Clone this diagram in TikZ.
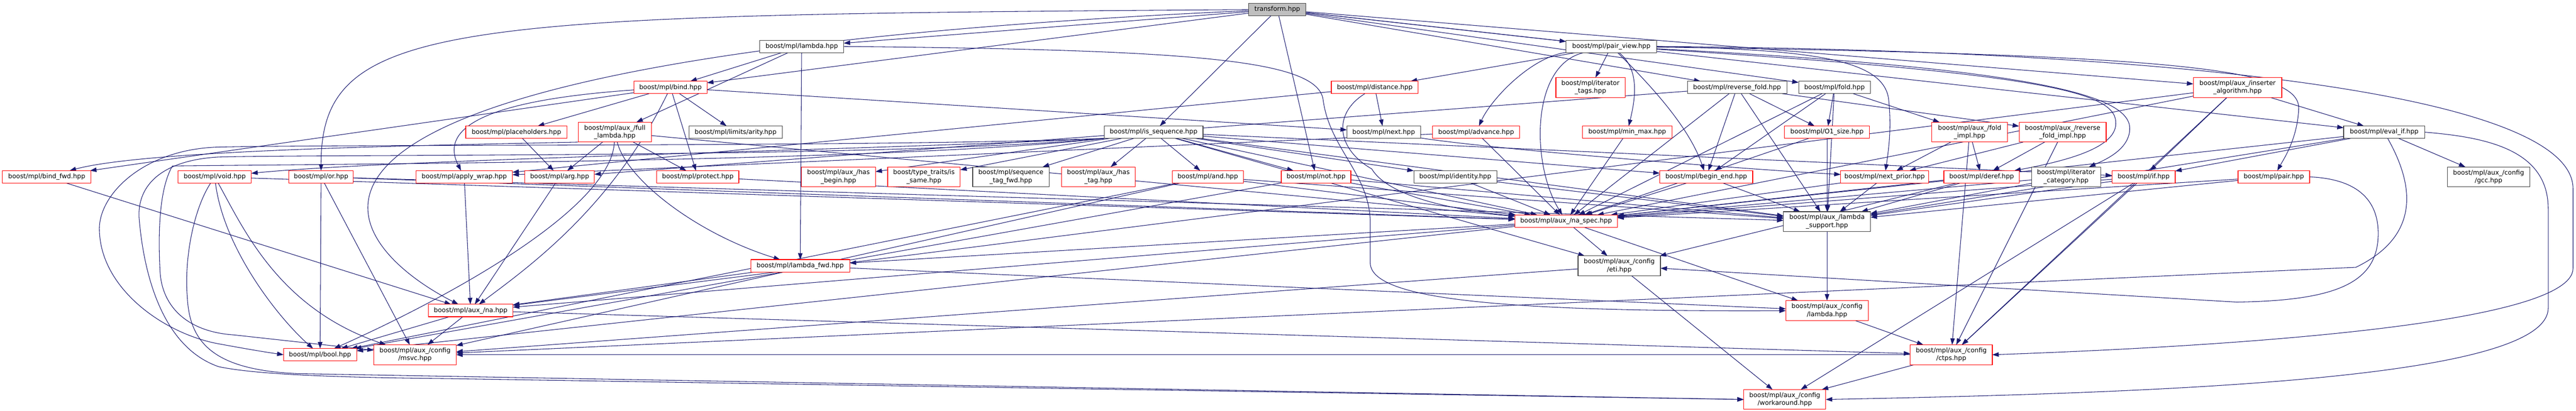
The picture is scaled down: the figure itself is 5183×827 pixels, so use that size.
\documentclass[tikz,border=0pt]{standalone}
\usepackage{fontspec}
\setmainfont{DejaVu Sans}
\usetikzlibrary{arrows.meta}
\definecolor{edgeblue}{HTML}{191970}
\definecolor{nodered}{HTML}{FF0000}
\definecolor{nodegray}{HTML}{404040}
\definecolor{rootfill}{HTML}{BFBFBF}
\pgfdeclarelayer{bglayer}
\pgfdeclarelayer{edgelayer}
\pgfsetlayers{bglayer,edgelayer,main}
\newcommand{\lblfont}{\fontsize{12.9}{16}\selectfont}
\tikzset{
  box/.style={draw, line width=1.2pt, minimum height=25pt, inner sep=0pt, outer sep=0pt, align=center, font=\lblfont, text=black, fill=white},
  rbox/.style={box, draw=nodered},
  kbox/.style={box, draw=nodegray},
  rootbox/.style={box, draw=nodegray, fill=rootfill},
  dbl/.style={minimum height=40pt},
  dep/.style={draw=edgeblue, line width=1.1pt, -{Triangle[length=13pt,width=9pt]}},
}
\begin{document}
\begin{tikzpicture}[x=1pt,y=-1pt]
\begin{pgfonlayer}{bglayer}
\fill[white] (0,0) rectangle (5183,827);
\end{pgfonlayer}
\useasboundingbox (0,0) rectangle (5183,827);
% row 0
\node[rootbox, minimum width=115pt] (T) at (2570,19) {transform.hpp};
% row 1
\node[kbox, minimum width=169pt] (lam) at (1613,93.5) {boost/mpl/lambda.hpp};
\node[kbox, minimum width=182pt] (pv) at (3242,93.5) {boost/mpl/pair\_view.hpp};
% row 2
\node[rbox, minimum width=147pt] (bind) at (1349,176) {boost/mpl/bind.hpp};
\node[rbox, minimum width=175pt] (dist) at (2766,176) {boost/mpl/distance.hpp};
\node[rbox, dbl, minimum width=139pt] (itags) at (3200,176) {boost/mpl/iterator\\\_tags.hpp};
\node[kbox, minimum width=200pt] (rfold) at (3495,176) {boost/mpl/reverse\_fold.hpp};
\node[kbox, minimum width=144pt] (fold) at (3691,176) {boost/mpl/fold.hpp};
\node[rbox, dbl, minimum width=178pt] (ins) at (4502,176) {boost/mpl/aux\_/inserter\\\_algorithm.hpp};
% row 3
\node[rbox, minimum width=204pt] (ph) at (1039,266) {boost/mpl/placeholders.hpp};
\node[rbox, dbl, minimum width=147pt] (fl) at (1237,266) {boost/mpl/aux\_/full\\\_lambda.hpp};
\node[kbox, minimum width=188pt] (arity) at (1480,266) {boost/mpl/limits/arity.hpp};
\node[kbox, minimum width=199pt] (isseq) at (2321,266) {boost/mpl/is\_sequence.hpp};
\node[kbox, minimum width=148pt] (next) at (2784,266) {boost/mpl/next.hpp};
\node[rbox, minimum width=175pt] (adv) at (2970,266) {boost/mpl/advance.hpp};
\node[rbox, minimum width=181pt] (mm) at (3274,266) {boost/mpl/min\_max.hpp};
\node[rbox, minimum width=171pt] (o1) at (3676,266) {boost/mpl/O1\_size.hpp};
\node[rbox, dbl, minimum width=152pt] (fimpl) at (3963,266) {boost/mpl/aux\_/fold\\\_impl.hpp};
\node[rbox, dbl, minimum width=175pt] (rfimpl) at (4150,266) {boost/mpl/aux\_/reverse\\\_fold\_impl.hpp};
\node[kbox, minimum width=163pt] (evif) at (4797,266) {boost/mpl/eval\_if.hpp};
% row 4
\node[rbox, minimum width=178pt] (bindfwd) at (94,356) {boost/mpl/bind\_fwd.hpp};
\node[rbox, minimum width=147pt] (void) at (432,356) {boost/mpl/void.hpp};
\node[rbox, minimum width=130pt] (nor) at (646,356) {boost/mpl/or.hpp};
\node[rbox, minimum width=194pt] (aw) at (934,356) {boost/mpl/apply\_wrap.hpp};
\node[rbox, minimum width=140pt] (arg) at (1126,356) {boost/mpl/arg.hpp};
\node[rbox, minimum width=165pt] (prot) at (1404,356) {boost/mpl/protect.hpp};
\node[rbox, dbl, minimum width=149pt] (hbeg) at (1687,356) {boost/mpl/aux\_/has\\\_begin.hpp};
\node[rbox, dbl, minimum width=146pt] (issame) at (1859,356) {boost/type\_traits/is\\\_same.hpp};
\node[kbox, dbl, minimum width=154pt] (stf) at (2034,356) {boost/mpl/sequence\\\_tag\_fwd.hpp};
\node[rbox, dbl, minimum width=149pt] (htag) at (2210,356) {boost/mpl/aux\_/has\\\_tag.hpp};
\node[rbox, minimum width=143pt] (nand) at (2430,356) {boost/mpl/and.hpp};
\node[rbox, minimum width=140pt] (nnot) at (2648,356) {boost/mpl/not.hpp};
\node[kbox, minimum width=167pt] (ident) at (2928,356) {boost/mpl/identity.hpp};
\node[rbox, minimum width=187pt] (be) at (3433,356) {boost/mpl/begin\_end.hpp};
\node[rbox, minimum width=177pt] (np) at (3792,356) {boost/mpl/next\_prior.hpp};
\node[rbox, minimum width=152pt] (deref) at (3987,356) {boost/mpl/deref.hpp};
\node[kbox, dbl, minimum width=139pt] (itcat) at (4157,356) {boost/mpl/iterator\\\_category.hpp};
\node[rbox, minimum width=127pt] (nif) at (4313,356) {boost/mpl/if.hpp};
\node[rbox, minimum width=144pt] (pair) at (4575,356) {boost/mpl/pair.hpp};
\node[kbox, dbl, minimum width=166pt] (gcc) at (5007,356) {boost/mpl/aux\_/config\\/gcc.hpp};
% row 5
\node[rbox, minimum width=206pt] (nspec) at (3151,445) {boost/mpl/aux\_/na\_spec.hpp};
\node[kbox, dbl, minimum width=175pt] (lsup) at (3676,446) {boost/mpl/aux\_/lambda\\\_support.hpp};
% row 6
\node[rbox, minimum width=199pt] (lfwd) at (1610,535) {boost/mpl/lambda\_fwd.hpp};
\node[kbox, dbl, minimum width=166pt] (eti) at (3258,535) {boost/mpl/aux\_/config\\/eti.hpp};
% row 7
\node[rbox, minimum width=170pt] (na) at (947,625) {boost/mpl/aux\_/na.hpp};
\node[rbox, dbl, minimum width=166pt] (clam) at (3676,625) {boost/mpl/aux\_/config\\/lambda.hpp};
% row 8
\node[rbox, minimum width=147pt] (bool) at (644,714) {boost/mpl/bool.hpp};
\node[rbox, dbl, minimum width=166pt] (msvc) at (835,714) {boost/mpl/aux\_/config\\/msvc.hpp};
\node[rbox, dbl, minimum width=165pt] (ctps) at (3926,714) {boost/mpl/aux\_/config\\/ctps.hpp};
% row 9
\node[rbox, dbl, minimum width=165pt] (wa) at (3591,804) {boost/mpl/aux\_/config\\/workaround.hpp};

\begin{pgfonlayer}{edgelayer}
% transform.hpp
\draw[dep] (T) -- (lam);
\draw[dep] (T) -- (bind);
\draw[dep] (T) -- (pv);
\draw[dep] (T) -- (rfold);
\draw[dep] (T) -- (fold);
\draw[dep] (T) -- (ins);
\draw[dep] (T) -- (isseq);
\draw[dep] (T) -- (evif);
\draw[dep] (T) -- (nnot);
\draw[dep] (T) .. controls (900,30) and (646,40) .. (nor);
\draw[dep] (T) .. controls (300,120) and (700,500) .. (na);
% lambda.hpp
\draw[dep] (lam) -- (bind);
\draw[dep] (lam) -- (fl);
\draw[dep] (lam) -- (lfwd);
\draw[dep] (lam.east) .. controls (2400,100) and (2650,120) .. (2662,200) .. controls (2675,300) and (2757,350) .. (2757,450) -- (2757,530) .. controls (2760,600) and (3000,628) .. (clam);
% pair_view.hpp
\draw[dep] (pv) -- (dist);
\draw[dep] (pv) -- (itags);
\draw[dep] (pv) .. controls (3080,115) and (3000,200) .. (adv);
\draw[dep] (pv) .. controls (3330,180) and (3400,260) .. (be);
\draw[dep] (pv) .. controls (3300,140) and (3290,200) .. (mm);
\draw[dep] (pv) .. controls (3080,130) and (3080,330) .. (nspec);
\draw[dep] (pv.east) .. controls (3650,100) and (3790,120) .. (3800,200) .. controls (3806,260) and (3800,300) .. (np);
\draw[dep] (pv) .. controls (4150,150) and (4260,190) .. (4257,250) .. controls (4255,300) and (4150,325) .. (deref);
\draw[dep] (pv) .. controls (4150,140) and (4290,200) .. (4285,262) .. controls (4282,300) and (4240,320) .. (itcat);
\draw[dep] (pv) .. controls (4400,110) and (4630,140) .. (4625,220) .. controls (4622,280) and (4595,320) .. (pair);
\draw[dep] (pv.east) .. controls (4300,100) and (5177,180) .. (5177,380) -- (5177,540) .. controls (5177,660) and (4400,700) .. (ctps.east);
% bind.hpp
\draw[dep] (bind) -- (bindfwd);
\draw[dep] (bind) -- (ph);
\draw[dep] (bind) -- (next);
\draw[dep] (bind) -- (prot);
\draw[dep] (bind) -- (arity);
\draw[dep] (bind) .. controls (1000,200) and (880,250) .. (aw);
\draw[dep] (bind) .. controls (1230,420) and (1060,540) .. (na);
% distance.hpp
\draw[dep] (dist) -- (next);
\draw[dep] (dist) -- (aw);
\draw[dep] (dist) .. controls (2680,230) and (2690,300) .. (2760,340) .. controls (2790,390) and (2900,420) .. (nspec);
% reverse_fold.hpp
\draw[dep] (rfold) -- (be);
\draw[dep] (rfold) -- (o1);
\draw[dep] (rfold) -- (arg);
\draw[dep] (rfold) -- (rfimpl);
\draw[dep] (rfold) -- (nspec);
\draw[dep] (rfold) -- (lsup);
% fold.hpp
\draw[dep] (fold) -- (be);
\draw[dep] (fold) -- (o1);
\draw[dep] (fold) -- (fimpl);
\draw[dep] (fold) -- (nspec);
\draw[dep] (fold) -- (lsup);
% inserter_algorithm.hpp
\draw[dep] (ins) -- (evif);
\draw[dep] (ins) -- (nif);
\draw[dep] (ins) -- (na);
\draw[dep] (ins) -- (nspec);
\draw[dep] (ins) -- (ctps);
% placeholders / full_lambda
\draw[dep] (ph) -- (arg);
\draw[dep] (fl) .. controls (1260,360) and (1400,470) .. (lfwd);
\draw[dep] (fl.south west) .. controls (900,292) and (300,300) .. (bindfwd);
\draw[dep] (fl) -- (prot);
\draw[dep] (fl) -- (arg);
\draw[dep] (fl) .. controls (1230,420) and (900,600) .. (bool);
\draw[dep] (fl) -- (nspec);
% is_sequence.hpp
\draw[dep] (isseq) -- (nnot);
\draw[dep] (isseq) -- (nand);
\draw[dep] (isseq) -- (be);
\draw[dep] (isseq) -- (nif);
\draw[dep] (isseq) -- (stf);
\draw[dep] (isseq) -- (ident);
\draw[dep] (isseq) -- (htag);
\draw[dep] (isseq) -- (hbeg);
\draw[dep] (isseq) -- (issame);
\draw[dep] (isseq) -- (nspec);
\draw[dep] (isseq) -- (lsup);
\draw[dep] (isseq) -- (eti);
\draw[dep] (isseq.south west) .. controls (1800,300) and (800,320) .. (void);
\draw[dep] (isseq.south west) .. controls (1800,296) and (700,290) .. (440,296) .. controls (290,300) and (200,390) .. (200,460) .. controls (200,580) and (330,672) .. (440,692) .. controls (500,703) and (530,708) .. (bool.west);
\draw[dep] (isseq.south west) .. controls (1800,318) and (700,310) .. (440,316) .. controls (330,322) and (275,370) .. (280,440) .. controls (290,560) and (330,700) .. (440,738) .. controls (520,755) and (700,760) .. (900,762) -- (wa.west);
\draw[dep] (isseq.south west) .. controls (1800,326) and (700,330) .. (347,334) .. controls (320,380) and (318,470) .. (322,546) .. controls (326,620) and (380,668) .. (470,674) -- (msvc);
% next / advance / min_max / O1_size
\draw[dep] (next) .. controls (3000,300) and (3500,340) .. (np);
\draw[dep] (adv) -- (aw);
\draw[dep] (adv) -- (nspec);
\draw[dep] (mm) -- (nspec);
\draw[dep] (o1) -- (nspec);
\draw[dep] (o1) -- (lsup);
% fold_impl / reverse_fold_impl
\draw[dep] (fimpl) -- (np);
\draw[dep] (fimpl) -- (deref);
\draw[dep] (fimpl) -- (ctps);
\draw[dep] (rfimpl) -- (np);
\draw[dep] (rfimpl) -- (deref);
\draw[dep] (rfimpl) -- (ctps);
% eval_if.hpp
\draw[dep] (evif) -- (nif);
\draw[dep] (evif) -- (nspec);
\draw[dep] (evif) -- (lsup);
\draw[dep] (evif) -- (gcc);
\draw[dep] (evif) .. controls (4850,360) and (4880,470) .. (4740,538) -- (msvc);
\draw[dep] (evif.east) .. controls (5000,276) and (5127,300) .. (5127,420) -- (5127,620) .. controls (5127,760) and (4400,790) .. (wa.east);
% row 4 sources
\draw[dep] (bindfwd) -- (na);
\draw[dep] (void) .. controls (450,500) and (560,640) .. (bool);
\draw[dep] (void) .. controls (490,460) and (560,620) .. (msvc);
\draw[dep] (void) -- (nspec);
\draw[dep] (void) .. controls (390,420) and (370,520) .. (377,600) .. controls (382,690) and (430,745) .. (600,752) -- (wa.west);
\draw[dep] (nor) -- (bool);
\draw[dep] (nor) -- (msvc);
\draw[dep] (nor) -- (nspec);
\draw[dep] (nor) -- (lsup);
\draw[dep] (aw) -- (na);
\draw[dep] (arg) -- (na);
\draw[dep] (prot) -- (nspec);
\draw[dep] (nand) -- (bool);
\draw[dep] (nand) -- (msvc);
\draw[dep] (nand) -- (nspec);
\draw[dep] (nand) -- (lsup);
\draw[dep] (nnot) -- (bool);
\draw[dep] (nnot) -- (nspec);
\draw[dep] (nnot) -- (lsup);
\draw[dep] (ident) -- (nspec);
\draw[dep] (ident) -- (lsup);
\draw[dep] (be) -- (nspec);
\draw[dep] (be) -- (lsup);
\draw[dep] (np) -- (nspec);
\draw[dep] (np) -- (lsup);
\draw[dep] (deref) -- (nspec);
\draw[dep] (deref) -- (lsup);
\draw[dep] (deref) -- (eti);
\draw[dep] (itcat) -- (nspec);
\draw[dep] (itcat) -- (lsup);
\draw[dep] (nif) -- (nspec);
\draw[dep] (nif) -- (lsup);
\draw[dep] (nif) -- (ctps);
\draw[dep] (nif) -- (wa);
\draw[dep] (pair) -- (nspec);
\draw[dep] (pair) -- (lsup);
\draw[dep] (pair.east) .. controls (4740,360) and (4785,400) .. (4785,470) .. controls (4785,570) and (4700,605) .. (4500,608) -- (eti);
% lower rows
\draw[dep] (nspec) -- (lfwd);
\draw[dep] (nspec) -- (bool);
\draw[dep] (nspec) -- (na);
\draw[dep] (nspec) -- (eti);
\draw[dep] (nspec) -- (clam);
\draw[dep] (lsup) -- (clam);
\draw[dep] (lfwd) -- (na);
\draw[dep] (lfwd) -- (clam);
\draw[dep] (eti) -- (msvc);
\draw[dep] (eti) -- (wa);
\draw[dep] (na) -- (bool);
\draw[dep] (na) -- (msvc);
\draw[dep] (na) -- (ctps);
\draw[dep] (clam) -- (ctps);
\draw[dep] (ctps) -- (msvc);
\draw[dep] (ctps) -- (wa);
\end{pgfonlayer}
\end{tikzpicture}
\end{document}
